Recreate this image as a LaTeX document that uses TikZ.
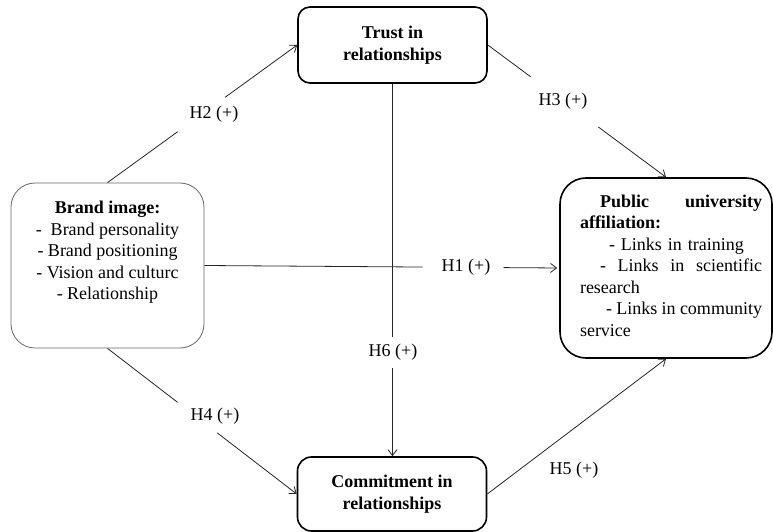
\documentclass[tikz,border=0pt]{standalone}
\usepackage{fontspec}
\setmainfont{Liberation Serif}
\usetikzlibrary{arrows.meta}
\begin{document}
\begin{tikzpicture}[x=1pt,y=-1pt,
  boxfont/.style={font=\fontsize{18}{21.5}\selectfont},
  box/.style={draw=black,line width=1.6pt,rectangle,inner sep=0pt,font=\bfseries\fontsize{18}{21.5}\selectfont,align=center},
  conn/.style={draw=black!85,line width=0.8pt},
  arr/.style={conn,-{Straight Barb[length=6pt,width=9pt]}},
  lab/.style={boxfont,inner sep=0pt}]
\useasboundingbox (0,0) rectangle (774,532);

% boxes
\node[box,rounded corners=12pt,minimum width=189pt,minimum height=76pt] (trust) at (392.5,45) {Trust in\\relationships};
\node[box,rounded corners=14pt,minimum width=189pt,minimum height=74pt] (commit) at (392,494) {Commitment in\\relationships};
\node[draw=black!60,line width=0.8pt,rounded corners=24pt,minimum width=193pt,minimum height=165pt,inner sep=0pt] (brand) at (107.5,265.5) {};
\node[boxfont,align=center,inner sep=0pt] (brandtext) at (107.5,252.5) {\textbf{Brand image:}\\-~ Brand personality\\- Brand positioning\\- Vision and culturc\\- Relationship};
\node[draw=black,line width=1.6pt,rounded corners=26pt,minimum width=212pt,minimum height=180pt,inner sep=0pt] (public) at (666,268) {};
\node[boxfont,text width=182pt,align=left,inner sep=0pt] (pubtext) at (671,265.5) {\parindent=0pt\hyphenpenalty=10000%
\leavevmode\hbox to 182pt{\hspace*{20pt}\textbf{Public}\hfill\textbf{university}}\\
\textbf{affiliation:}\\
\hspace*{29pt}- Links in training\\
\leavevmode\hbox to 182pt{\hspace*{20pt}-\hfill Links\hfill in\hfill scientific}\\
research\\
\leavevmode\hbox to 182pt{\hspace*{26pt}-\hfill Links\hfill in\hfill community}\\
service};

% H2
\path (brand.north) -- (trust.west) coordinate[pos=0.37] (h2a) coordinate[pos=0.62] (h2b);
\draw[conn] (brand.north) -- (h2a);
\draw[arr] (h2b) -- (trust.west);
\node[lab] (h2) at (214,114) {H2 (+)};

% H3
\path (trust.east) -- (public.north) coordinate[pos=0.24] (h3a) coordinate[pos=0.62] (h3b);
\draw[conn] (trust.east) -- (h3a);
\draw[arr] (h3b) -- (public.north);
\node[lab] (h3) at (563,101) {H3 (+)};

% H1
\path (brand.east) -- (public.west) coordinate[pos=0.615] (h1a) coordinate[pos=0.843] (h1b);
\draw[conn] (brand.east) -- (h1a);
\draw[arr,shorten >=2pt] (h1b) -- (public.west);
\node[lab] (h1) at (466,267) {H1 (+)};

% H6
\coordinate (h6end) at (trust.south |- commit.north);
\path (trust.south) -- (h6end) coordinate[pos=0.679] (h6a) coordinate[pos=0.762] (h6b);
\draw[conn] (trust.south) -- (h6a);
\draw[arr] (h6b) -- (h6end);
\node[lab] (h6) at (393,352) {H6 (+)};

% H4
\path (brand.south) -- (commit.west) coordinate[pos=0.37] (h4a) coordinate[pos=0.58] (h4b);
\draw[conn] (brand.south) -- (h4a);
\draw[arr] (h4b) -- (commit.west);
\node[lab] (h4) at (215,416) {H4 (+)};

% H5
\draw[arr] (commit.east) -- (public.south);
\node[lab] (h5) at (574,470) {H5 (+)};
\end{tikzpicture}
\end{document}
